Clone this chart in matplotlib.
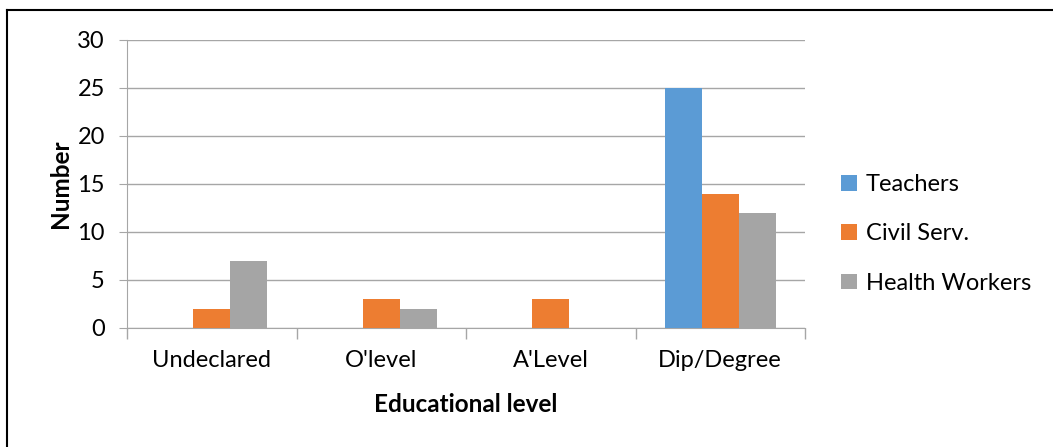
import numpy as np
import matplotlib.pyplot as plt
from matplotlib.lines import Line2D

categories = ["Undeclared", "O'level", "A'Level", "Dip/Degree"]
teachers = [0, 0, 0, 25]
civil = [2, 3, 3, 14]
health = [7, 2, 0, 12]
series_names = ["Teachers", "Civil Serv.", "Health Workers"]
colors = ["#5B9BD5", "#ED7D31", "#A5A5A5"]

plt.rcParams['font.family'] = ['Lato', 'DejaVu Sans']

W, H = 1053, 447
fig = plt.figure(figsize=(W / 100, H / 100), dpi=100)
ax = fig.add_axes([127 / W, 1 - 328 / H, (805 - 127) / W, (328 - 40) / H])

x = np.arange(len(categories))
bw = 0.218
for i, (vals, name, c) in enumerate(zip([teachers, civil, health], series_names, colors)):
    ax.bar(x + (i - 1) * bw, vals, width=bw, color=c, label=name, zorder=3)

ax.set_xlim(-0.5, len(categories) - 0.5)
ax.set_ylim(0, 30)
ax.set_yticks(range(0, 31, 5))
ax.set_xticks(x)
ax.set_xticklabels(categories)
ax.set_xticks(np.arange(-0.5, len(categories), 1), minor=True)
ax.tick_params(axis='x', which='major', length=0, pad=16, labelsize=17)
ax.tick_params(axis='x', which='minor', length=8, color='#A6A6A6', width=1)
ax.tick_params(axis='y', length=6, color='#A6A6A6', labelsize=17, pad=10)
ax.grid(axis='y', color='#A6A6A6', linewidth=1, zorder=0)
for s in ['top', 'right']:
    ax.spines[s].set_visible(False)
for s in ['left', 'bottom']:
    ax.spines[s].set_color('#A6A6A6')

ax.set_ylabel("Number", fontsize=17.5, fontweight='bold', labelpad=4)
ax.set_xlabel("Educational level", fontsize=17.5, fontweight='bold', labelpad=16)

fig.legend(loc='center left', bbox_to_anchor=(820 / W, 1 - 234 / H), frameon=False,
           fontsize=17, handlelength=0.65, handleheight=0.65, handletextpad=0.4,
           labelspacing=1.2)

fig.add_artist(Line2D([7 / W, 1], [1 - 10 / H, 1 - 10 / H], color='black', linewidth=1.5))
fig.add_artist(Line2D([7 / W, 7 / W], [0, 1 - 10 / H], color='black', linewidth=1.5))

fig.savefig('out.png', dpi=100)
